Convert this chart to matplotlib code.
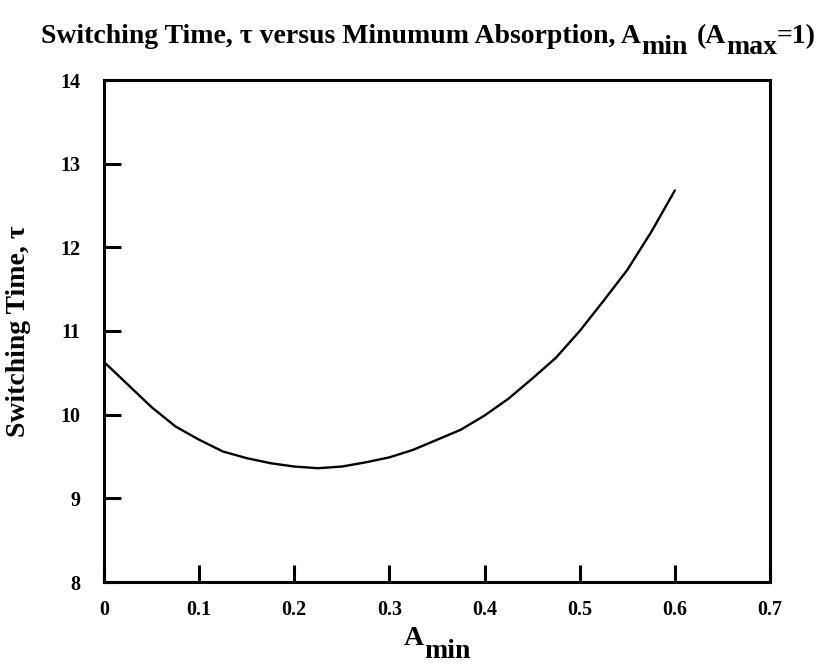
import matplotlib
matplotlib.use("Agg")
import matplotlib.pyplot as plt

plt.rcParams["font.family"] = ["Liberation Serif", "DejaVu Serif"]
plt.rcParams["font.weight"] = "bold"

# Switching time tau as a function of minimum absorption A_min (A_max = 1)
a_min = [0.0, 0.025, 0.05, 0.075, 0.1, 0.125, 0.15, 0.175, 0.2, 0.225,
         0.25, 0.275, 0.3, 0.325, 0.35, 0.375, 0.4, 0.425, 0.45, 0.475,
         0.5, 0.525, 0.55, 0.575, 0.6]
tau = [10.63, 10.36, 10.09, 9.86, 9.70, 9.56, 9.48, 9.42, 9.38, 9.36,
       9.38, 9.43, 9.49, 9.58, 9.70, 9.82, 9.99, 10.19, 10.43, 10.68,
       11.00, 11.36, 11.73, 12.18, 12.68]

x_ticks = [0, 0.1, 0.2, 0.3, 0.4, 0.5, 0.6, 0.7]
x_tick_labels = ["0", "0.1", "0.2", "0.3", "0.4", "0.5", "0.6", "0.7"]
y_ticks = [8, 9, 10, 11, 12, 13, 14]

W, H = 827, 672
fig = plt.figure(figsize=(W / 100, H / 100), dpi=100)
ax = fig.add_axes([104 / W, 1 - 582 / H, 666 / W, 502 / H])

ax.plot(a_min, tau, color="black", lw=1.7, solid_capstyle="round")

ax.set_xlim(0, 0.7)
ax.set_ylim(8, 14)
ax.set_xticks(x_ticks)
ax.set_xticklabels(x_tick_labels)
ax.set_yticks(y_ticks)

for side in ["top", "right", "bottom", "left"]:
    ax.spines[side].set_linewidth(2.2)
ax.tick_params(axis="both", direction="in", length=12, width=2.2,
               labelsize=14.5)
ax.tick_params(axis="x", pad=13)
ax.tick_params(axis="y", pad=17)

LABEL_SIZE = 20
ax.set_ylabel("Switching Time, τ", fontsize=LABEL_SIZE, weight="bold",
              labelpad=21)

renderer = fig.canvas.get_renderer()


def run_of_text(pieces, x_px, base_px, size, align="left"):
    """Lay out (text, drop_px, gap_px) pieces side by side on a shared baseline."""
    made = []
    widths = []
    for text, drop, gap in pieces:
        t = fig.text(0, 0, text, fontsize=size, weight="bold",
                     ha="left", va="baseline")
        widths.append(t.get_window_extent(renderer).width)
        made.append(t)
    total = sum(widths) + sum(p[2] for p in pieces)
    x = x_px - total / 2 if align == "center" else x_px
    for t, w, (text, drop, gap) in zip(made, widths, pieces):
        x += gap
        t.set_position((x / W, 1 - (base_px + drop) / H))
        x += w
    return total


title_pieces = [
    ("Switching Time, τ versus Minumum Absorption, A", 0, 0),
    ("min", 11, 0),
    ("(A", 0, 9),
    ("max", 11, 0),
    ("=1)", 0, 0),
]
run_of_text(title_pieces, 428.5, 43, LABEL_SIZE, align="center")

xlabel_pieces = [("A", 0, 0), ("min", 13, 0)]
run_of_text(xlabel_pieces, 437, 645, LABEL_SIZE, align="center")

fig.savefig("out.png", dpi=100)
